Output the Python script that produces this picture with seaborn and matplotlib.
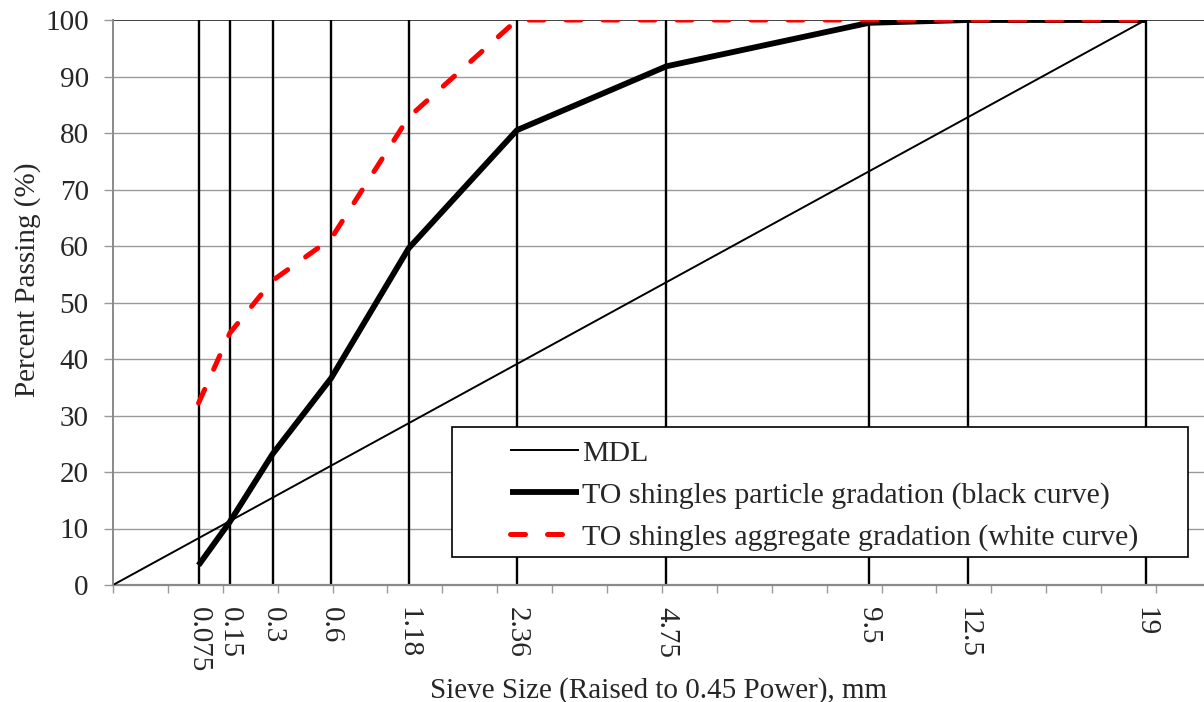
import numpy as np
import pandas as pd
import seaborn as sns
import matplotlib.pyplot as plt
from matplotlib.patches import Rectangle
from matplotlib.ticker import MultipleLocator

# sieve sizes (mm) and percent passing
sieve_sizes = [0.075, 0.15, 0.3, 0.6, 1.18, 2.36, 4.75, 9.5, 12.5, 19]
sieve_labels = ['0.075', '0.15', '0.3', '0.6', '1.18', '2.36', '4.75', '9.5', '12.5', '19']
particle_passing = [3.5, 11.2, 23.2, 36.6, 59.6, 80.5, 91.8, 99.5, 100, 100]
aggregate_passing = [32.2, 44.6, 53.9, 61.3, 82.8, 100, 100, 100, 100, 100]
mdl_sizes = [0, 19]
mdl_passing = [0, 100]

POWER = 0.45
x_sieve = np.array(sieve_sizes) ** POWER
x_mdl = np.array(mdl_sizes, dtype=float) ** POWER

df = pd.DataFrame({'x': x_sieve, 'particle': particle_passing, 'aggregate': aggregate_passing})
mdl_df = pd.DataFrame({'x': x_mdl, 'y': mdl_passing})

sns.set_style('white')
plt.rcParams['font.family'] = ['Liberation Serif', 'DejaVu Serif']
FS = 21

fig = plt.figure(figsize=(12.04, 7.02), dpi=100)
ax = fig.add_axes([113 / 1204, 117 / 702, 1091 / 1204, 565 / 702])

# horizontal gridlines
for yv in range(10, 100, 10):
    ax.axhline(yv, color='#9a9a9a', lw=1.0, zorder=1)
ax.axhline(100, color='#333333', lw=1.3, zorder=1)

# vertical lines at each sieve
ax.vlines(x_sieve, 0, 100, color='black', lw=1.7, zorder=2)

sns.lineplot(data=mdl_df, x='x', y='y', ax=ax, color='black', lw=1.4,
             label='MDL', zorder=3)
sns.lineplot(data=df, x='x', y='particle', ax=ax, color='black', lw=4.2,
             label='TO shingles particle gradation (black curve)', zorder=4)
sns.lineplot(data=df, x='x', y='aggregate', ax=ax, color='#ff0000', lw=3.6,
             linestyle=(0, (3, 4.4)),
             label='TO shingles aggregate gradation (white curve)', zorder=5)
for ln in ax.get_lines():
    ln.set_dash_capstyle('round')
    ln.set_solid_capstyle('butt')

ax.set_xlim(0, 3.975)
ax.set_ylim(0, 100)
ax.set_yticks(range(0, 101, 10))
ax.set_xticks(x_sieve)
ax.set_xticklabels(sieve_labels, rotation=-90, ha='center', va='top')
ax.xaxis.set_minor_locator(MultipleLocator(0.2))

ax.tick_params(axis='x', which='major', length=0, pad=16, labelsize=FS)
ax.tick_params(axis='x', which='minor', length=6, width=1.0, color='#9a9a9a', direction='out', bottom=True)
ax.tick_params(axis='y', which='major', length=6.5, width=1.0, color='#9a9a9a', direction='out',
               left=True, pad=11, labelsize=FS)

for side in ['top', 'right']:
    ax.spines[side].set_visible(False)
ax.spines['left'].set_color('#8a8a8a')
ax.spines['left'].set_linewidth(1.4)
ax.spines['bottom'].set_color('#8a8a8a')
ax.spines['bottom'].set_linewidth(1.6)
ax.spines['left'].set_zorder(6)

ax.set_xlabel('Sieve Size (Raised to 0.45 Power), mm', fontsize=FS)
ax.set_ylabel('Percent Passing (%)', fontsize=FS)
ax.xaxis.set_label_coords(0.5, -0.163)
ax.yaxis.set_label_coords(-0.066, 0.54)

# legend frame
ax.add_patch(Rectangle((0.3107, 0.0496), 0.6743, 0.2300, transform=ax.transAxes,
                       facecolor='white', edgecolor='black', lw=1.2, zorder=7))
leg = ax.legend(loc='upper left', bbox_to_anchor=(0.3639, 0.2573), frameon=False,
                fontsize=21.5, borderpad=0, handlelength=2.3, handletextpad=0.12,
                labelspacing=0.5, borderaxespad=0)
leg.set_zorder(8)

fig.savefig('out.png', dpi=100)
